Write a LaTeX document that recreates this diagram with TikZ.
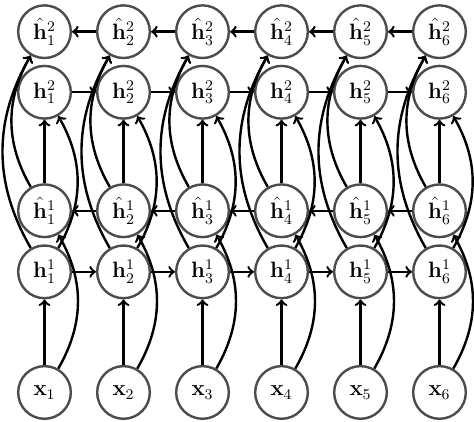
\documentclass[tikz,border=0pt]{standalone}
\usepackage{amsmath,amssymb}
\begin{document}
\begin{tikzpicture}[>=to, line width=1.3pt,
    unit/.style={circle, draw=black!70, minimum size=1cm, inner sep=0pt, font=\large},
    link/.style={->, black}]
  \useasboundingbox (-0.845,-0.56) rectangle (8.155,7.452);

  % Units, one column per time step
  \foreach \i in {1,...,6} {
    \pgfmathsetmacro{\cx}{1.5*(\i-1)}
    \node[unit] (x\i)  at (\cx,0)    {$\mathbf{x}_{\i}$};
    \node[unit] (f1\i) at (\cx,2.29) {$\mathbf{h}^1_{\i}$};
    \node[unit] (b1\i) at (\cx,3.45) {$\hat{\mathbf{h}}^1_{\i}$};
    \node[unit] (f2\i) at (\cx,5.70) {$\mathbf{h}^2_{\i}$};
    \node[unit] (b2\i) at (\cx,6.85) {$\hat{\mathbf{h}}^2_{\i}$};
  }

  % Recurrent links, forward and backward
  \foreach \i [evaluate=\i as \j using int(\i+1)] in {1,...,5} {
    \draw[link] (f1\i) -- (f1\j);
    \draw[link] (b1\j) -- (b1\i);
    \draw[link] (f2\i) -- (f2\j);
    \draw[link] (b2\j) -- (b2\i);
  }

  % Links between layers
  \foreach \i in {1,...,6} {
    \draw[link] (x\i) -- (f1\i);
    \draw[link] (x\i) to[bend right=30] (b1\i);
    \draw[link] (b1\i) -- (f2\i);
    \draw[link] (f1\i) to[bend right=30] (f2\i);
    \draw[link] (b1\i) to[bend left=30] (b2\i);
    \draw[link] (f1\i) to[bend left=30] (b2\i);
  }
\end{tikzpicture}
\end{document}
